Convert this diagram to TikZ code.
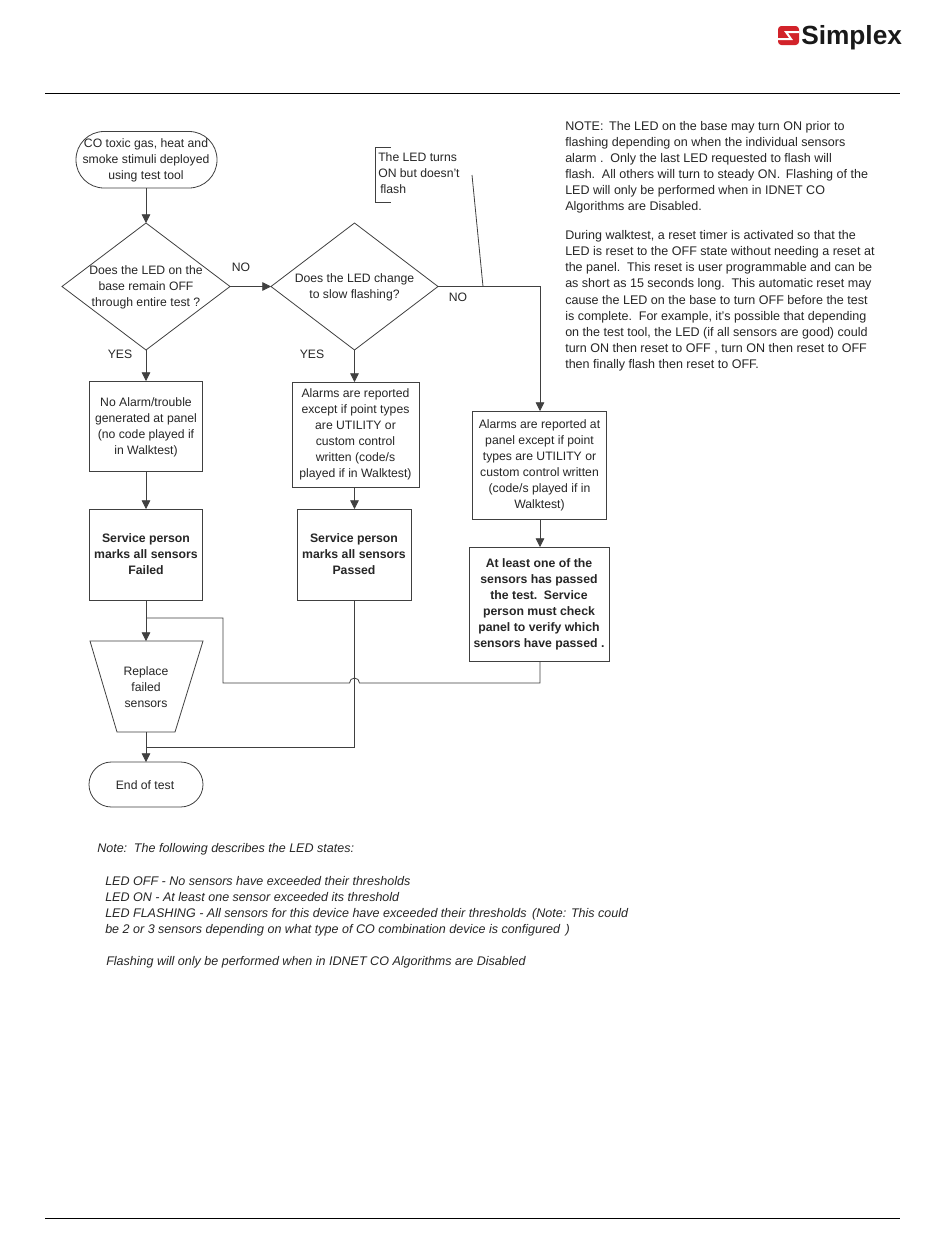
\documentclass[tikz,border=0pt]{standalone}
\usepackage{fontspec}
\setmainfont{Liberation Sans}
\usetikzlibrary{arrows.meta}
\definecolor{linec}{HTML}{404040}
\definecolor{simred}{HTML}{D2232A}
\tikzset{
  x=0.75pt,y=-0.75pt,
  flow/.style={draw=linec,line width=0.6pt},
  arr/.style={flow,-{Triangle[length=6.5pt,width=6.5pt]}},
  lbl/.style={inner sep=0pt,align=center,font=\fontsize{9.15}{12}\selectfont,text=black!85},
  bold/.style={lbl,font=\fontsize{9.2}{12}\selectfont\bfseries},
  side/.style={inner sep=0pt,anchor=base west,font=\fontsize{9.4}{10}\selectfont,text=black!85},
  ital/.style={inner sep=0pt,anchor=base west,font=\fontsize{9.4}{10}\selectfont\itshape,text=black!85},
}
\begin{document}
\begin{tikzpicture}
\useasboundingbox (0,0) rectangle (950,1260);
\fill[white] (0,0) rectangle (950,1260);
% rules
\coordinate (r1a) at (45,93.5); \coordinate (r1b) at (900,93.5);
\coordinate (r2a) at (45,1218.5); \coordinate (r2b) at (900,1218.5);
\draw[black,line width=0.6pt] (r1a)--(r1b);
\draw[black,line width=0.6pt] (r2a)--(r2b);
% logo
\fill[simred,rounded corners=2.5pt] (778,26) rectangle (799,45);
\draw[white,line width=1.5pt] (799,32) -- (786,32) -- (791,39) -- (778,39);
\node[inner sep=0pt,anchor=base west,font=\fontsize{19.7}{20}\selectfont\bfseries,text=black!90] (logo) at (801,44) {Simplex};
% start
\draw[flow,rounded corners=21pt] (76,131.5) rectangle (217,188);
\node[lbl] (start) at (146,160) {CO toxic gas, heat and\\smoke stimuli deployed\\using test tool};
% diamonds
\draw[flow] (62,286.5) -- (146,223) -- (230,286.5) -- (146,350) -- cycle;
\node[lbl] (d1) at (146,287) {Does the LED on the\\base remain OFF\\through entire test ?};
\draw[flow] (271,286.5) -- (354.5,223) -- (438,286.5) -- (354.5,350) -- cycle;
\node[lbl] (d2) at (354.5,287) {Does the LED change\\to slow flashing?};
% boxes
\node[flow,minimum width=85pt,minimum height=68pt,inner sep=0pt] (b1) at (146,426.5) {};
\node[lbl] at ([yshift=-0.75pt]b1.center) {No Alarm/trouble\\generated at panel\\(no code played if\\in Walktest)};
\node[flow,minimum width=95.2pt,minimum height=78.7pt,inner sep=0pt] (b2) at (355.5,434.5) {};
\node[lbl] at (b2.center) {Alarms are reported\\except if point types\\are UTILITY or\\custom control\\written (code/s\\played if in Walktest)};
\node[flow,minimum width=101pt,minimum height=81pt,inner sep=0pt] (b3) at (539.5,465) {};
\node[lbl] at (b3.center) {Alarms are reported at\\panel except if point\\types are UTILITY or\\custom control written\\(code/s played if in\\Walktest)};
\node[flow,minimum width=85pt,minimum height=68.2pt,inner sep=0pt] (s1) at (146,554.5) {};
\node[bold] at (s1.center) {Service person\\marks all sensors\\Failed};
\node[flow,minimum width=85.5pt,minimum height=68.2pt,inner sep=0pt] (s2) at (354,554.5) {};
\node[bold] at (s2.center) {Service person\\marks all sensors\\Passed};
\node[flow,minimum width=105pt,minimum height=85.5pt,inner sep=0pt] (b4) at (539,604) {};
\node[bold] at (b4.center) {At least one of the\\sensors has passed\\the test.\, Service\\person must check\\panel to verify which\\sensors have passed .};
% trapezoid
\draw[flow] (90,641) -- (203,641) -- (175,732) -- (117,732) -- cycle;
\node[lbl] (rep) at (146,687) {Replace\\failed\\sensors};
% end
\draw[flow,rounded corners=16.8pt] (89,762) rectangle (203,807);
\node[lbl] (end) at (145,785.5) {End of test};
% connectors
\coordinate (sb) at (146,188);
\coordinate (d1t) at (146,223); \coordinate (d1b) at (146,350); \coordinate (d1r) at (230,286.5);
\coordinate (d2t) at (354.5,223); \coordinate (d2b) at (354.5,350); \coordinate (d2l) at (271,286.5); \coordinate (d2r) at (438,286.5);
\draw[arr] (sb) -- (d1t);
\draw[arr] (d1b) -- (146,381);
\draw[arr] (d1r) -- (d2l);
\draw[arr] (d2b) -- (354.5,382);
\draw[arr] (d2r) -- (540,286.5) -- (540,411);
\draw[arr] (146,471) -- (146,509);
\draw[arr] (354.5,487) -- (354.5,509);
\draw[arr] (540,519) -- (540,547);
\draw[arr] (146,600) -- (146,641);
\draw[arr] (146,732) -- (146,762);
\draw[flow] (146,618) -- (223,618) -- (223,683) -- (349.5,683) arc[start angle=180,end angle=360,radius=5] -- (540,683) -- (540,661);
\draw[flow] (354.5,600) -- (354.5,747) -- (146,747);
% callout
\draw[flow] (391,147) -- (375,147) -- (375,202) -- (391,202);
\node[lbl,anchor=north west,align=left] (call) at (378,152) {The LED turns\\ON but doesn’t\\\,flash};
\draw[flow] (472,175) -- (483,286.5);
% edge labels
\node[lbl] (l1) at (241,267) {NO};
\node[lbl] (l2) at (120,354) {YES};
\node[lbl] (l3) at (458,297) {NO};
\node[lbl] (l4) at (312,354) {YES};
% side note
\node[side] at (565,130) {NOTE:\, The LED on the base may turn ON prior to};
\node[side] at (565,146) {flashing depending on when the individual sensors};
\node[side] at (565,162) {alarm .\, Only the last LED requested to flash will};
\node[side] at (565,178) {flash.\, All others will turn to steady ON.\, Flashing of the};
\node[side] at (565,194) {LED will only be performed when in IDNET CO};
\node[side] at (565,210) {Algorithms are Disabled.};
\node[side] at (565,239) {During walktest, a reset timer is activated so that the};
\node[side] at (565,255) {LED is reset to the OFF state without needing a reset at};
\node[side] at (565,271) {the panel.\, This reset is user programmable and can be};
\node[side] at (565,287) {as short as 15 seconds long.\, This automatic reset may};
\node[side] at (565,304) {cause the LED on the base to turn OFF before the test};
\node[side] at (565,320) {is complete.\, For example, it's possible that depending};
\node[side] at (565,336) {on the test tool, the LED (if all sensors are good) could};
\node[side] at (565,352) {turn ON then reset to OFF , turn ON then reset to OFF};
\node[side] at (565,368) {then finally flash then reset to OFF.};
% bottom note
\node[ital] at (97,852) {Note:\, The following describes the LED states:};
\node[ital] at (105,885) {LED OFF - No sensors have exceeded their thresholds};
\node[ital] at (105,901) {LED ON - At least one sensor exceeded its threshold};
\node[ital] at (105,917) {LED FLASHING - All sensors for this device have exceeded their thresholds\, (Note: This could};
\node[ital] at (105,933) {be 2 or 3 sensors depending on what type of CO combination device is configured\, )};
\node[ital] at (106,965) {Flashing will only be performed when in IDNET CO Algorithms are Disabled};
\end{tikzpicture}
\end{document}
